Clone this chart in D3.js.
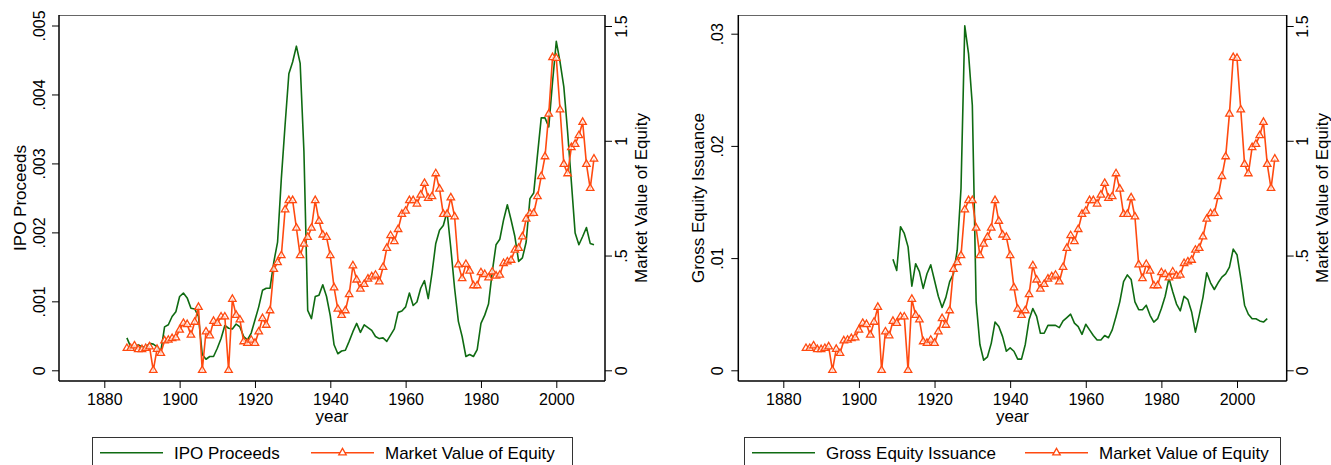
<!DOCTYPE html>
<meta charset="utf-8">
<style>
  body { margin: 0; background: #fff; }
  text { font-family: "Liberation Sans", Arial, sans-serif; fill: #000; }
</style>
<body>
<script src="https://cdnjs.cloudflare.com/ajax/libs/d3/7.8.5/d3.min.js"></script>
<script>

var width = 1331,
    height = 465;

// market value of equity, 1886-2010 (right axis, both panels)
var mveStart = 1886;
var mve = [
  0.096, 0.096, 0.107, 0.091, 0.091, 0.096, 0.103, 0, 0.092, 0.074,
  0.129, 0.132, 0.139, 0.142, 0.176, 0.205, 0.200, 0.154, 0.210, 0.275,
  0, 0.168, 0.151, 0.214, 0.205, 0.233, 0.233, 0, 0.310, 0.240,
  0.220, 0.125, 0.118, 0.132, 0.118, 0.168, 0.226, 0.197, 0.260, 0.440,
  0.470, 0.500, 0.700, 0.740, 0.740, 0.620, 0.500, 0.550, 0.580, 0.620,
  0.740, 0.650, 0.590, 0.580, 0.500, 0.360, 0.267, 0.240, 0.260, 0.330,
  0.456, 0.394, 0.354, 0.375, 0.398, 0.408, 0.415, 0.386, 0.449, 0.532,
  0.587, 0.561, 0.614, 0.680, 0.694, 0.740, 0.740, 0.725, 0.764, 0.815,
  0.750, 0.757, 0.857, 0.790, 0.680, 0.680, 0.752, 0.669, 0.460, 0.400,
  0.462, 0.433, 0.369, 0.369, 0.426, 0.418, 0.403, 0.429, 0.411, 0.415,
  0.466, 0.473, 0.480, 0.524, 0.532, 0.582, 0.659, 0.683, 0.684, 0.757,
  0.845, 0.931, 1.117, 1.363, 1.360, 1.135, 0.898, 0.857, 0.971, 0.985,
  1.023, 1.081, 0.898, 0.793, 0.921
];

// IPO proceeds, 1886-2010
var ipoStart = 1886;
var ipo = [
  0.00047, 0.00034, 0.00033, 0.00037, 0.00034, 0.00033, 0.00039, 0.00038, 0.00034, 0.00027,
  0.00063, 0.00066, 0.00078, 0.00085, 0.00107, 0.00112, 0.00105, 0.00090, 0.00089, 0.00078,
  0.00023, 0.00016, 0.00020, 0.00020, 0.00032, 0.00046, 0.00065, 0.00061, 0.00060, 0.00067,
  0.00063, 0.00049, 0.00044, 0.00054, 0.00073, 0.00092, 0.00116, 0.00119, 0.00119, 0.00157,
  0.00186, 0.00278, 0.00356, 0.00430, 0.00447, 0.00470, 0.00445, 0.00317, 0.00087, 0.00075,
  0.00107, 0.00109, 0.00124, 0.00107, 0.00079, 0.00037, 0.00024, 0.00028, 0.00029, 0.00042,
  0.00056, 0.00068, 0.00055, 0.00066, 0.00062, 0.00058, 0.00049, 0.00046, 0.00047, 0.00042,
  0.00051, 0.00060, 0.00084, 0.00086, 0.00092, 0.00112, 0.00094, 0.00099, 0.00119, 0.00130,
  0.00104, 0.00141, 0.00184, 0.00203, 0.00210, 0.00230, 0.00177, 0.00119, 0.00071, 0.00049,
  0.00020, 0.00023, 0.00020, 0.00030, 0.00068, 0.00080, 0.00096, 0.00143, 0.00182, 0.00190,
  0.00218, 0.00240, 0.00218, 0.00194, 0.00158, 0.00163, 0.00186, 0.00249, 0.00257, 0.00312,
  0.00366, 0.00366, 0.00353, 0.00418, 0.00477, 0.00447, 0.00411, 0.00346, 0.00273, 0.00199,
  0.00182, 0.00194, 0.00207, 0.00184, 0.00182
];

// gross equity issuance, 1909-2008
var geiStart = 1909;
var gei = [
  0.0099, 0.0089, 0.0128, 0.0122, 0.0110, 0.0075, 0.0095, 0.0088, 0.0073, 0.0086,
  0.0094, 0.0080, 0.0066, 0.0056, 0.0065, 0.0079, 0.0086, 0.0107, 0.0162, 0.0307,
  0.0282, 0.0236, 0.0061, 0.0023, 0.0009, 0.0012, 0.0024, 0.0043, 0.0039, 0.0030,
  0.0017, 0.0020, 0.0017, 0.0010, 0.0010, 0.0023, 0.0045, 0.0055, 0.0048, 0.0033,
  0.0033, 0.0040, 0.0040, 0.0040, 0.0038, 0.0044, 0.0047, 0.0050, 0.0042, 0.0039,
  0.0032, 0.0041, 0.0036, 0.0031, 0.0027, 0.0027, 0.0031, 0.0029, 0.0036, 0.0048,
  0.0061, 0.0079, 0.0085, 0.0081, 0.0061, 0.0054, 0.0054, 0.0058, 0.0049, 0.0043,
  0.0046, 0.0055, 0.0066, 0.0082, 0.0070, 0.0059, 0.0053, 0.0066, 0.0063, 0.0052,
  0.0034, 0.0049, 0.0065, 0.0087, 0.0078, 0.0072, 0.0078, 0.0083, 0.0086, 0.0092,
  0.0108, 0.0103, 0.0082, 0.0058, 0.0050, 0.0046, 0.0046, 0.0044, 0.0043, 0.0046
];

var xTicks = [1880, 1900, 1920, 1940, 1960, 1980, 2000];
var ipoTicks = [0, 0.001, 0.002, 0.003, 0.004, 0.005];
var geiTicks = [0, 0.01, 0.02, 0.03];
var mveTicks = [0, 0.5, 1, 1.5];

var green = "#0f6b12",
    orange = "#ff4a10";

function asSeries(start, values) {
  return values.map(function(v, i) { return { year: start + i, value: v }; });
}

// stata style: drop leading zero
function fmt(d) {
  if (d === 0) return "0";
  return String(d).replace(/^0\./, ".");
}

var svg = d3.select("body").append("svg")
    .attr("width", width)
    .attr("height", height);

function panel(p) {
  var g = svg.append("g");
  var x = d3.scaleLinear().domain([1880, 2000]).range([p.x1880, p.x2000]);
  var yL = d3.scaleLinear().domain([0, p.leftMax]).range([370.3, p.leftTopPx]);
  var yR = d3.scaleLinear().domain([0, 1.5]).range([370.3, 26]);

  // frame
  g.append("line")
      .attr("x1", p.left).attr("x2", p.right)
      .attr("y1", p.top + 0.5).attr("y2", p.top + 0.5)
      .attr("stroke", "#666").attr("stroke-width", 1.2);

  var ax = g.append("g")
      .attr("transform", "translate(0," + p.bottom + ")")
      .call(d3.axisBottom(x).tickValues(xTicks).tickSize(7).tickPadding(6).tickFormat(d3.format("d")).tickSizeOuter(0));
  ax.select(".domain").attr("d", "M" + p.left + ",0H" + p.right).attr("stroke-width", 1.5);
  ax.selectAll("text").style("font-size", "16px");

  var al = g.append("g")
      .attr("transform", "translate(" + p.left + ",0)")
      .call(d3.axisLeft(yL).tickValues(p.leftTicks).tickSize(7).tickFormat(fmt));
  al.select(".domain").attr("d", "M0," + p.top + "V" + p.bottom).attr("stroke-width", 1.5);
  al.selectAll("text")
      .attr("x", 0).attr("y", 0).attr("dy", 0)
      .attr("text-anchor", "middle")
      .attr("transform", "translate(" + p.leftLabelOff + ",0) rotate(-90)")
      .style("font-size", "16px");

  var ar = g.append("g")
      .attr("transform", "translate(" + p.right + ",0)")
      .call(d3.axisRight(yR).tickValues(mveTicks).tickSize(7).tickFormat(fmt));
  ar.select(".domain").attr("d", "M0," + p.top + "V" + p.bottom).attr("stroke-width", 1.5);
  ar.selectAll("text")
      .attr("x", 0).attr("y", 0).attr("dy", 0)
      .attr("text-anchor", "middle")
      .attr("transform", "translate(" + p.rightLabelOff + ",0) rotate(-90)")
      .style("font-size", "16px");

  // titles
  var midY = (p.top + p.bottom) / 2;
  g.append("text")
      .attr("text-anchor", "middle")
      .attr("transform", "translate(" + p.leftTitleX + "," + midY + ") rotate(-90)")
      .style("font-size", "17px")
      .text(p.leftTitle);
  g.append("text")
      .attr("text-anchor", "middle")
      .attr("transform", "translate(" + p.rightTitleX + "," + midY + ") rotate(-90)")
      .style("font-size", "17px")
      .text("Market Value of Equity");
  g.append("text")
      .attr("x", (p.left + p.right) / 2).attr("y", 421.5)
      .attr("text-anchor", "middle")
      .style("font-size", "17px")
      .text("year");

  // series
  var lineL = d3.line().x(function(d) { return x(d.year); }).y(function(d) { return yL(d.value); });
  var lineR = d3.line().x(function(d) { return x(d.year); }).y(function(d) { return yR(d.value); });

  g.append("path")
      .datum(p.series)
      .attr("d", lineL)
      .attr("fill", "none")
      .attr("stroke", green)
      .attr("stroke-width", 1.6)
      .attr("stroke-linejoin", "round");

  var m = asSeries(mveStart, mve);
  g.append("path")
      .datum(m)
      .attr("d", lineR)
      .attr("fill", "none")
      .attr("stroke", orange)
      .attr("stroke-width", 1.6)
      .attr("stroke-linejoin", "round");

  var tri = d3.symbol().type(d3.symbolTriangle).size(24);
  g.selectAll(".mk")
      .data(m)
    .enter().append("path")
      .attr("class", "mk")
      .attr("transform", function(d) { return "translate(" + x(d.year) + "," + yR(d.value) + ")"; })
      .attr("d", tri)
      .attr("fill", "#fff")
      .attr("fill-opacity", 0.7)
      .attr("stroke", orange)
      .attr("stroke-width", 1.3);

  // legend
  var lg = g.append("g");
  lg.append("rect")
      .attr("x", p.legX + 0.5).attr("y", 437.5)
      .attr("width", p.legW).attr("height", 40)
      .attr("fill", "#fff").attr("stroke", "#333").attr("stroke-width", 1);
  var ly = 452.7;
  lg.append("line")
      .attr("x1", p.leg1).attr("x2", p.leg1 + 63)
      .attr("y1", ly).attr("y2", ly)
      .attr("stroke", green).attr("stroke-width", 1.6);
  lg.append("text")
      .attr("x", p.leg1 + 74).attr("y", ly + 6)
      .style("font-size", "17px")
      .text(p.leftTitle);
  lg.append("line")
      .attr("x1", p.leg2).attr("x2", p.leg2 + 63)
      .attr("y1", ly).attr("y2", ly)
      .attr("stroke", orange).attr("stroke-width", 1.6);
  lg.append("path")
      .attr("transform", "translate(" + (p.leg2 + 31.5) + "," + ly + ")")
      .attr("d", tri)
      .attr("fill", "#fff")
      .attr("stroke", orange)
      .attr("stroke-width", 1.3);
  lg.append("text")
      .attr("x", p.leg2 + 74).attr("y", ly + 6)
      .style("font-size", "17px")
      .text("Market Value of Equity");
}

panel({
  left: 59, right: 605, top: 15, bottom: 381,
  x1880: 104.3, x2000: 556.3,
  leftMax: 0.005, leftTopPx: 25.5, leftTicks: ipoTicks,
  leftLabelOff: -14, rightLabelOff: 22,
  leftTitle: "IPO Proceeds", leftTitleX: 26, rightTitleX: 647,
  series: asSeries(ipoStart, ipo),
  legX: 92, legW: 480, leg1: 100, leg2: 311
});

panel({
  left: 738.3, right: 1286.7, top: 15, bottom: 381,
  x1880: 783.3, x2000: 1237,
  leftMax: 0.03, leftTopPx: 33.7, leftTicks: geiTicks,
  leftLabelOff: -15, rightLabelOff: 21,
  leftTitle: "Gross Equity Issuance", leftTitleX: 704, rightTitleX: 1328,
  series: asSeries(geiStart, gei),
  legX: 744, legW: 536, leg1: 752, leg2: 1025
});

</script>
